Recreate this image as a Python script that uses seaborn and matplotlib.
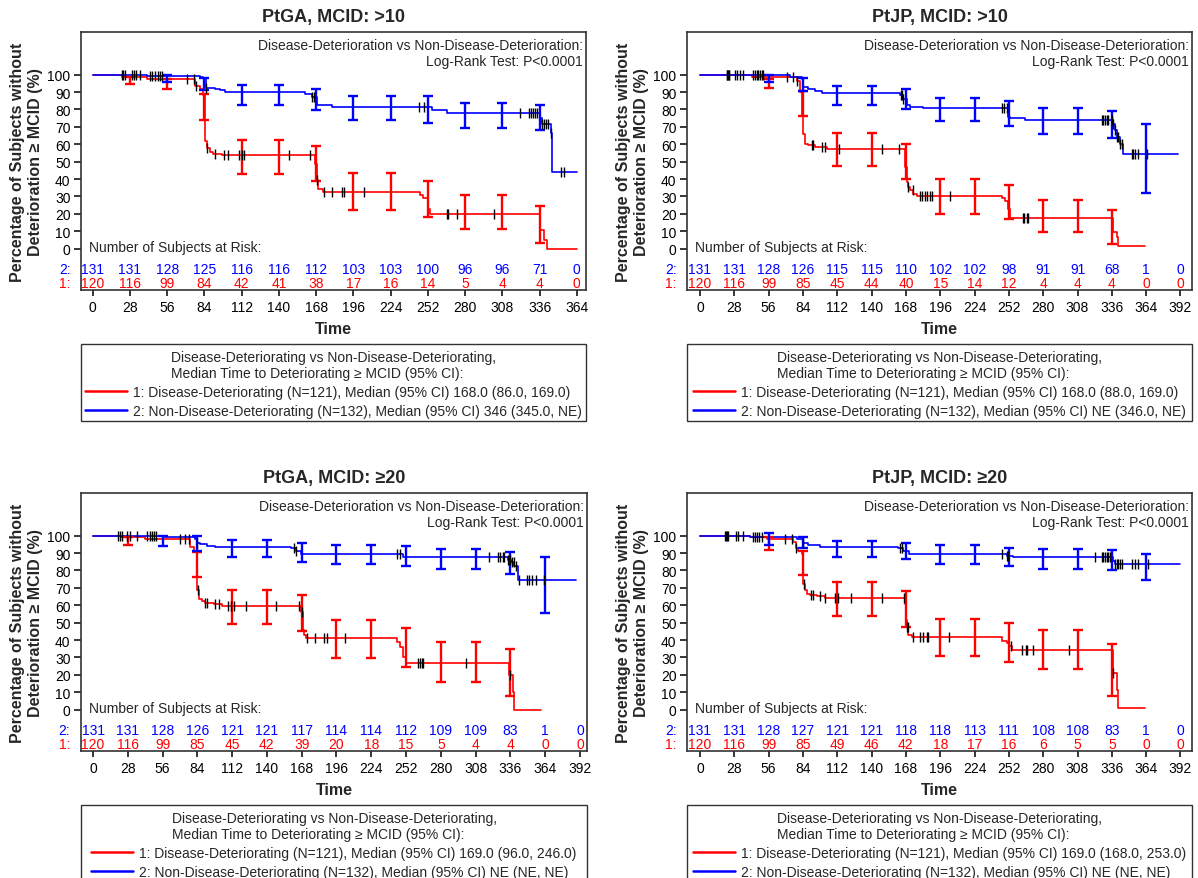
"""Kaplan-Meier panels: time to deterioration >= MCID, PtGA / PtJP."""
import matplotlib
matplotlib.use("Agg")
import matplotlib.pyplot as plt
import matplotlib.transforms as mtransforms
from matplotlib.lines import Line2D
from matplotlib.patches import Rectangle
import numpy as np
import seaborn as sns

sns.set_style("ticks")
plt.rcParams["font.family"] = ["Liberation Sans", "DejaVu Sans"]

RED = "#ff0000"
BLUE = "#0000ff"
FRAME = "#333333"
FS = 10

YLABEL = "Percentage of Subjects without\nDeterioration \u2265 MCID (%)"
LEG_TITLE = ("Disease-Deteriorating vs Non-Disease-Deteriorating,\n"
             "Median Time to Deteriorating \u2265 MCID (95% CI):")
TITLES = ["PtGA, MCID: >10", "PtJP, MCID: >10",
          "PtGA, MCID: \u226520", "PtJP, MCID: \u226520"]

TICKS_364 = [0, 28, 56, 84, 112, 140, 168, 196, 224, 252, 280, 308, 336, 364]
TICKS_392 = TICKS_364 + [392]
YTICKS = [0, 10, 20, 30, 40, 50, 60, 70, 80, 90, 100]

# ---------------- panel 1: PtGA, MCID >10
P1_RED_T = [0, 22, 41, 77, 81, 83.2, 84.4, 85.7, 88.2, 90.7, 97, 167.1, 168.4, 169.6,
            173.4, 246, 248.6, 252.3, 253.6, 336.3, 339.6, 341.3, 364]
P1_RED_S = [100, 98.7, 97.5, 93.5, 92, 88, 62, 58, 55.5, 54.6, 53.7, 48.8, 39.3, 34.5,
            32.6, 30.7, 28.8, 23, 20.1, 10.5, 4.8, 0, 0]
P1_BLUE_T = [0, 41, 80.7, 83.2, 84.9, 91.9, 95.7, 99.5, 159.6, 164.6, 168.4, 179.7,
             254.9, 266.1, 267.4, 336.3, 337.6, 344.4, 345.1, 364]
P1_BLUE_S = [100, 99.4, 98.4, 97.8, 92.5, 92, 91, 90, 89.1, 87.2, 82.5, 81.6,
             79.6, 78.1, 77.7, 74.8, 71.4, 66.2, 44.3, 44.3]
P1_RED_CENS = [70.7, 76.4, 77.7, 85.7, 91.9, 98.9, 101.5, 110, 112, 114, 147.6, 163.4,
               168.9, 174.2, 180.2, 187.2, 189.2, 204.2, 266.1, 267.4, 273.7, 302]
P1_BLUE_CENS = [22, 22.5, 24.3, 29.3, 31.1, 32.3, 35.6, 43.1, 44.3, 46.8, 48.8, 50.6,
                52.4, 84.9, 164.6, 166.6, 245.6, 249.3, 321.3, 328.1, 329.6, 331.3,
                332.6, 334.1, 338.1, 339.6, 341.1, 342.6, 344.4, 352.1, 354.6]
P1_RED_CI_T = [28, 56, 84, 112, 140, 168, 196, 224, 252, 280, 308, 336]
P1_RED_LO = [94.4, 91.5, 73.7, 42.8, 42.8, 38.8, 22.4, 22.4, 17.9, 11.3, 11.3, 3.1]
P1_RED_HI = [98.7, 97.6, 88.6, 62.7, 62.7, 58.9, 43.2, 43.2, 38.8, 30.8, 30.8, 24.5]
P1_BLUE_CI_T = [56, 84, 112, 140, 168, 196, 224, 252, 280, 308, 336]
P1_BLUE_LO = [95.7, 91.4, 82.8, 82.8, 79.9, 73.7, 73.7, 72.4, 69.5, 69.5, 68]
P1_BLUE_HI = [100, 98.3, 93.9, 93.9, 92, 87.5, 87.5, 87.5, 83.9, 83.9, 82.4]
P1_RISK_BLUE = [131, 131, 128, 125, 116, 116, 112, 103, 103, 100, 96, 96, 71, 0]
P1_RISK_RED = [120, 116, 99, 84, 42, 41, 38, 17, 16, 14, 5, 4, 4, 0]
P1_LABELS = ["1: Disease-Deteriorating (N=121), Median (95% CI) 168.0 (86.0, 169.0)",
             "2: Non-Disease-Deteriorating (N=132), Median (95% CI) 346 (345.0, NE)"]

# ---------------- panel 2: PtJP, MCID >10
P2_RED_T = [0, 42.2, 78.9, 81.6, 82.9, 84.3, 85.7, 88.4, 93.8, 103.3, 167.2, 168.6, 170,
            171.3, 174.1, 176.8, 246.1, 248.8, 251.6, 252.9, 337.2, 339.9, 341.3, 363]
P2_RED_S = [100, 98.7, 96.3, 90, 76.6, 66, 60.3, 59.4, 58.4, 57.5, 46.9, 38.3, 35.4,
            33.5, 31.2, 30, 28.8, 27.4, 23, 17.8, 9.6, 6.7, 1.4, 1.4]
P2_BLUE_T = [0, 42.2, 73.4, 82.9, 84.3, 88.4, 93.8, 99.3, 163.2, 165.9, 168.6, 171.3,
             182.2, 251.6, 252.9, 265.1, 336.7, 338.6, 339.9, 342.7, 345.4, 390.2]
P2_BLUE_S = [100, 99.6, 98.7, 97.7, 92.9, 92, 90.6, 89.5, 88.1, 86.2, 82.4, 81.4,
             81, 75.6, 75, 73.7, 71.8, 67.9, 64, 60.2, 54.2, 54.2]
P2_RED_CENS = [70.7, 76.2, 79.4, 91.1, 92.5, 99.3, 102, 113.4, 148.2, 162.6, 170, 173.5,
               179.5, 181.4, 183.5, 185.5, 187.6, 189.5, 204, 263.2, 264.6, 267, 267.9]
P2_BLUE_CENS = [21.8, 22.3, 22.8, 23.4, 23.9, 28.5, 30.5, 32.6, 35.4, 43.5, 44.9, 46.2,
                47.6, 49, 50.3, 51.7, 163.7, 164.8, 165.9, 246.1, 248, 250.2, 327.7,
                329.1, 330.4, 331.8, 333.1, 335.9, 337.2, 338.6, 339.9, 341.3, 342.7,
                344, 352.2, 353.6, 354.9, 357.7, 365]
P2_RED_CI_T = [56, 84, 112, 140, 168, 196, 224, 252, 280, 308, 336]
P2_RED_LO = [92.5, 76, 47.6, 47.6, 40.2, 20.1, 20.1, 16.9, 9.6, 9.6, 2.9]
P2_RED_HI = [97.6, 90.6, 66.7, 66.7, 60.3, 40.2, 40.2, 36.4, 28.2, 28.2, 22]
P2_BLUE_CI_T = [56, 84, 112, 140, 168, 196, 224, 252, 280, 308, 336, 364]
P2_BLUE_LO = [95.6, 90.6, 82.8, 82.8, 80.1, 73.2, 73.2, 70.4, 65.8, 65.8, 63.3, 31.7]
P2_BLUE_HI = [100, 98.3, 93.5, 93.5, 92, 86.8, 86.8, 84.9, 81.1, 81.1, 79, 71.9]
P2_RISK_BLUE = [131, 131, 128, 126, 115, 115, 110, 102, 102, 98, 91, 91, 68, 1, 0]
P2_RISK_RED = [120, 116, 99, 85, 45, 44, 40, 15, 14, 12, 4, 4, 4, 0, 0]
P2_LABELS = ["1: Disease-Deteriorating (N=121), Median (95% CI) 168.0 (88.0, 169.0)",
             "2: Non-Disease-Deteriorating (N=132), Median (95% CI) NE (346.0, NE)"]

# ---------------- panel 3: PtGA, MCID >=20
P3_RED_T = [0, 22.8, 41.8, 78.3, 81, 83.7, 85, 87.7, 90.4, 97.2, 104, 167.5, 168.8,
            170.2, 171.5, 244.5, 247.2, 249.9, 252.1, 254, 335.1, 337.8, 339.2, 361]
P3_RED_S = [100, 99.2, 98.3, 93.5, 90.5, 68.6, 63.8, 62.5, 61.5, 60.6, 59.4, 56.3, 45.8,
            42.9, 41.3, 39.1, 36.2, 30.4, 27, 26.5, 19.7, 10.2, 0, 0]
P3_BLUE_T = [0, 41.8, 58, 82.3, 83.7, 86.4, 91.8, 98.5, 159.4, 163.4, 167.5, 249.9,
             333.8, 336.5, 339.2, 341.9, 389.2]
P3_BLUE_S = [100, 99.6, 99, 98.3, 95.8, 95, 94.3, 93.6, 92.6, 91.4, 89.5, 87.5,
             86.2, 84.9, 82.4, 74.7, 74.7]
P3_RED_CENS = [70.1, 74.2, 77.4, 84.5, 90.4, 91.8, 98, 101.2, 108.8, 111.2, 113.4, 122.9,
               147.2, 166.1, 168.3, 172.1, 178.3, 185.6, 188.3, 202.6, 261.3, 263.5,
               264.8, 265.6, 299.9, 335.5]
P3_BLUE_CENS = [20.1, 21.5, 23.4, 27.7, 29.6, 35, 43.1, 45.8, 47.7, 49.1, 50.7, 83.7,
                162, 163.4, 244.5, 247.2, 318.9, 326.2, 327.8, 329.7, 331, 334.3, 335.9,
                337, 338.6, 340.5, 343.2, 349.4, 351.3, 353.2, 356.7, 363]
P3_RED_CI_T = [28, 84, 112, 140, 168, 196, 224, 252, 280, 308, 336]
P3_RED_LO = [94.4, 76.2, 49.1, 49.1, 45.3, 29.9, 29.9, 24.5, 15.6, 15.6, 8]
P3_RED_HI = [99.2, 90.5, 68.6, 68.6, 65.7, 51.3, 51.3, 47.1, 39, 39, 35.1]
P3_BLUE_CI_T = [56, 84, 112, 140, 168, 196, 224, 252, 280, 308, 336, 364]
P3_BLUE_LO = [93.9, 91.4, 87.5, 87.5, 84.9, 83.9, 83.9, 82.8, 81, 81, 78.2, 55.4]
P3_BLUE_HI = [99.6, 99.6, 97.3, 97.3, 95.8, 94.4, 94.4, 93.9, 92.1, 92.1, 90.6, 87.5]
P3_RISK_BLUE = [131, 131, 128, 126, 121, 121, 117, 114, 114, 112, 109, 109, 83, 1, 0]
P3_RISK_RED = [120, 116, 99, 85, 45, 42, 39, 20, 18, 15, 5, 4, 4, 0, 0]
P3_LABELS = ["1: Disease-Deteriorating (N=121), Median (95% CI) 169.0 (96.0, 246.0)",
             "2: Non-Disease-Deteriorating (N=132), Median (95% CI) NE (NE, NE)"]

# ---------------- panel 4: PtJP, MCID >=20
P4_RED_T = [0, 40.8, 54.4, 76.1, 78.3, 80.2, 82.9, 83.7, 84.3, 85.7, 87, 89.7, 95.2, 102,
            167.2, 168, 168.6, 170, 172.7, 246.1, 250.2, 252.4, 254.3, 336.7, 339.9,
            341.3, 363]
P4_RED_S = [100, 99.2, 98.3, 96.4, 92.6, 91.3, 89.7, 77.2, 72.4, 68.6, 66.7, 65.7, 65.1,
            64.4, 60.9, 51.3, 47.5, 42.7, 41.8, 39.5, 38.4, 36.5, 34.5, 21, 11, 1, 1]
P4_BLUE_T = [0, 40.8, 78.9, 84.3, 88.4, 97.9, 161.8, 165.9, 170.8, 250.2, 255.6,
             336.7, 338.6, 391.6]
P4_BLUE_S = [100, 99.2, 97.9, 95.6, 94.6, 93.7, 92.7, 91.2, 89.7, 88.3, 87.7,
             85.4, 83.5, 83.5]
P4_RED_CENS = [69.3, 74.8, 78.3, 84.8, 90.3, 91.9, 97.9, 102, 110.1, 112.8, 122.9, 148.2,
               166.4, 168.6, 169.4, 173.5, 179.5, 182.2, 185.5, 186.3, 203.4, 253.7,
               262.4, 266, 267, 272, 301.3, 337]
P4_BLUE_CENS = [20.4, 21.2, 22, 22.8, 29.4, 31.3, 34.8, 43, 44.9, 46.2, 48.1, 50.3, 84.3,
                163.2, 164.8, 246.1, 250.2, 251.6, 322.3, 327.7, 329.1, 330.4, 331.8,
                333.1, 334.5, 338.6, 339.9, 341.3, 342.7, 344, 352.2, 354.9, 357.7, 365.8]
P4_RED_CI_T = [56, 84, 112, 140, 168, 196, 224, 252, 280, 308, 336]
P4_RED_LO = [92, 77.2, 53.9, 53.9, 47.5, 30.6, 30.6, 27.4, 23.2, 23.2, 7.9]
P4_RED_HI = [99.2, 91.3, 73.4, 73.4, 68.2, 52.3, 52.3, 50, 46, 46, 37.9]
P4_BLUE_CI_T = [56, 84, 112, 140, 168, 196, 224, 252, 280, 308, 336, 364]
P4_BLUE_LO = [94.4, 93.1, 87.7, 87.7, 86.7, 83.5, 83.5, 82.4, 81.1, 81.1, 80.5, 74.7]
P4_BLUE_HI = [101.5, 99.2, 96.9, 96.9, 95.9, 94.4, 94.4, 93.1, 92.5, 92.5, 92, 89.7]
P4_RISK_BLUE = [131, 131, 128, 127, 121, 121, 118, 118, 113, 111, 108, 108, 83, 1, 0]
P4_RISK_RED = [120, 116, 99, 85, 49, 46, 42, 18, 17, 16, 6, 5, 5, 0, 0]
P4_LABELS = ["1: Disease-Deteriorating (N=121), Median (95% CI) 169.0 (168.0, 253.0)",
             "2: Non-Disease-Deteriorating (N=132), Median (95% CI) NE (NE, NE)"]


def step_at(t, s, when):
    idx = np.searchsorted(np.asarray(t), np.asarray(when), side="right") - 1
    return np.asarray(s)[idx]


def draw_curve(ax, t, s, cens, ci_t, lo, hi, color):
    sns.lineplot(x=t, y=s, ax=ax, color=color, lw=1.2, drawstyle="steps-post",
                 estimator=None, sort=False, legend=False, zorder=3)
    lo = np.asarray(lo); hi = np.asarray(hi)
    ax.errorbar(ci_t, (lo + hi) / 2, yerr=(hi - lo) / 2, fmt="none", ecolor=color,
                elinewidth=1.7, capsize=3.3, capthick=1.7, zorder=4)
    ax.plot(cens, step_at(t, s, cens), ls="none", marker="|", ms=7.5, mew=1.0,
            color="black", zorder=5)


def draw_panel(ax, title, xlim, xticks, red, blue, risk_red, risk_blue, labels):
    draw_curve(ax, *red, RED)
    draw_curve(ax, *blue, BLUE)

    ax.set_xlim(*xlim)
    ax.set_ylim(-23.8, 124.5)
    ax.set_xticks(xticks)
    ax.set_yticks(YTICKS)
    ax.tick_params(axis="both", labelsize=FS, colors="black", width=1.1,
                   direction="out")
    ax.tick_params(axis="y", length=5, pad=2.5)
    ax.tick_params(axis="x", length=4.5, pad=3)
    for sp in ax.spines.values():
        sp.set_visible(True)
        sp.set_color(FRAME)
        sp.set_linewidth(1.2)
    ax.set_title(title, fontsize=13, fontweight="bold", pad=8)
    ax.set_xlabel("Time", fontsize=11.5, fontweight="bold", labelpad=4.5)
    ax.set_ylabel(YLABEL, fontsize=11.5, fontweight="bold", labelpad=3,
                  linespacing=1.3)

    ax.text(0.9935, 0.951, "Disease-Deterioration vs Non-Disease-Deterioration:",
            transform=ax.transAxes, ha="right", va="center", fontsize=FS)
    ax.text(0.9935, 0.886, "Log-Rank Test: P<0.0001",
            transform=ax.transAxes, ha="right", va="center", fontsize=FS)

    # number at risk table inside the frame
    tr = mtransforms.blended_transform_factory(ax.transAxes, ax.transData)
    ax.text(0.0165, 1.2, "Number of Subjects at Risk:", transform=tr,
            ha="left", va="center", fontsize=FS)
    ax.text(-0.021, -12.0, "2:", transform=tr, ha="right", va="center",
            fontsize=FS, color=BLUE, clip_on=False)
    ax.text(-0.021, -20.0, "1:", transform=tr, ha="right", va="center",
            fontsize=FS, color=RED, clip_on=False)
    for x, nb, nr in zip(xticks, risk_blue, risk_red):
        ax.text(x, -12.0, str(nb), ha="center", va="center", fontsize=FS, color=BLUE)
        ax.text(x, -20.0, str(nr), ha="center", va="center", fontsize=FS, color=RED)

    # legend box under the plot
    handles = [Line2D([], [], color=RED, lw=1.8), Line2D([], [], color=BLUE, lw=1.8)]
    ax.legend(handles, labels, title=LEG_TITLE, loc="upper center",
              bbox_to_anchor=(0.5, -0.232), frameon=False, fontsize=FS,
              title_fontsize=FS, handlelength=3.0, handletextpad=0.45,
              labelspacing=0.36, borderpad=0, borderaxespad=0)
    ax.add_patch(Rectangle((0, -0.508), 1, 0.3, transform=ax.transAxes, fill=False,
                           ec=FRAME, lw=1.0, clip_on=False))


fig = plt.figure(figsize=(11.98, 8.79), dpi=100)
W, H = 1198, 879
ax1 = fig.add_axes([81 / W, 1 - 291 / H, 505 / W, 258 / H])
ax2 = fig.add_axes([687 / W, 1 - 291 / H, 505 / W, 258 / H])
ax3 = fig.add_axes([81 / W, 1 - 752 / H, 506 / W, 258 / H])
ax4 = fig.add_axes([687 / W, 1 - 752 / H, 505 / W, 258 / H])

draw_panel(ax1, TITLES[0], (-8.8, 370.9), TICKS_364,
           (P1_RED_T, P1_RED_S, P1_RED_CENS, P1_RED_CI_T, P1_RED_LO, P1_RED_HI),
           (P1_BLUE_T, P1_BLUE_S, P1_BLUE_CENS, P1_BLUE_CI_T, P1_BLUE_LO, P1_BLUE_HI),
           P1_RISK_RED, P1_RISK_BLUE, P1_LABELS)
draw_panel(ax2, TITLES[1], (-10.6, 401.4), TICKS_392,
           (P2_RED_T, P2_RED_S, P2_RED_CENS, P2_RED_CI_T, P2_RED_LO, P2_RED_HI),
           (P2_BLUE_T, P2_BLUE_S, P2_BLUE_CENS, P2_BLUE_CI_T, P2_BLUE_LO, P2_BLUE_HI),
           P2_RISK_RED, P2_RISK_BLUE, P2_LABELS)
draw_panel(ax3, TITLES[2], (-9.7, 397.7), TICKS_392,
           (P3_RED_T, P3_RED_S, P3_RED_CENS, P3_RED_CI_T, P3_RED_LO, P3_RED_HI),
           (P3_BLUE_T, P3_BLUE_S, P3_BLUE_CENS, P3_BLUE_CI_T, P3_BLUE_LO, P3_BLUE_HI),
           P3_RISK_RED, P3_RISK_BLUE, P3_LABELS)
draw_panel(ax4, TITLES[3], (-10.6, 401.4), TICKS_392,
           (P4_RED_T, P4_RED_S, P4_RED_CENS, P4_RED_CI_T, P4_RED_LO, P4_RED_HI),
           (P4_BLUE_T, P4_BLUE_S, P4_BLUE_CENS, P4_BLUE_CI_T, P4_BLUE_LO, P4_BLUE_HI),
           P4_RISK_RED, P4_RISK_BLUE, P4_LABELS)

fig.savefig("out.png", dpi=100)
plt.close(fig)
